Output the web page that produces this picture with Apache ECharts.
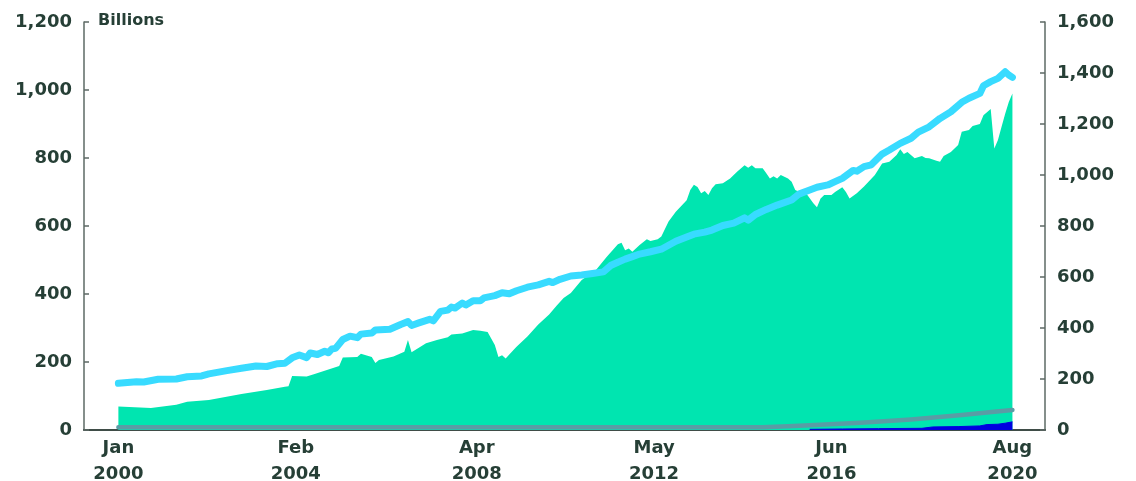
<!DOCTYPE html>
<html>
<head>
<meta charset="utf-8">
<script src="https://cdn.jsdelivr.net/npm/echarts@6/dist/echarts.min.js"></script>
<style>
html,body{margin:0;padding:0;background:#fff;}
#chart{width:1136px;height:481px;}
</style>
</head>
<body>
<div id="chart"></div>
<script>
// x = month index from Jan 2000
const monthNames = ['Jan','Feb','Mar','Apr','May','Jun','Jul','Aug','Sep','Oct','Nov','Dec'];
const startYear = 2000;
const tickMonths = [0, 49, 99, 148, 197, 247];
const leftTicks = [0, 200, 400, 600, 800, 1000, 1200];
const rightTicks = [0, 200, 400, 600, 800, 1000, 1200, 1400, 1600];

// green area (left axis, billions)
const seriesGreen = [
 [0,69],[9,65],[16,74],[19,83],[25,88],[34,106],[41,118],[46,127],[47,129],[48,159],[52,157],[54,164],
 [61,188],[62,213],[66,215],[67,224],[70,215],[71,197],[72,206],[76,216],[79,230],[80,265],[81,229],
 [85,255],[88,265],[91,273],[92,281],[95,284],[98,294],[100,292],[102,288],[104,250],[105,215],[106,220],
 [107,210],[108,222],[110,245],[113,275],[116,310],[119,340],[121,365],[123,388],[125,403],[128,441],
 [132,471],[135,510],[138,546],[139,551],[140,529],[141,534],[142,524],[144,544],[146,561],[147,556],
 [149,561],[150,569],[152,613],[154,642],[157,676],[158,706],[159,721],[160,715],[161,696],[162,703],
 [163,691],[164,711],[165,723],[167,726],[169,740],[171,760],[173,779],[174,771],[175,779],[176,770],
 [178,770],[179,755],[180,740],[181,746],[182,740],[183,750],[185,740],[186,730],[187,706],[188,701],
 [190,696],[192,667],[193,655],[194,681],[195,691],[197,691],[198,700],[200,714],[201,700],[202,681],
 [204,696],[206,716],[209,750],[211,784],[213,789],[215,809],[216,826],[217,812],[218,818],[220,799],
 [222,806],[223,800],[224,799],[226,792],[227,789],[228,806],[230,818],[232,838],[233,877],[235,882],
 [236,894],[238,900],[239,926],[241,944],[242,828],[243,853],[244,892],[245,930],[246,965],[247,990]
];
// light blue line (right axis)
const seriesBlue = [
 [0,183],[5,189],[7,188],[11,199],[16,200],[19,209],[23,212],[25,220],[30,233],[34,242],[38,251],[41,249],
 [44,260],[46,262],[48,283],[50,294],[52,284],[53,302],[55,296],[57,309],[58,303],[59,318],[60,320],
 [62,355],[64,368],[66,362],[67,376],[70,380],[71,392],[75,395],[78,414],[80,425],[81,410],[83,420],
 [86,434],[87,428],[89,465],[91,470],[92,482],[93,478],[95,498],[96,490],[98,507],[100,507],[101,518],
 [104,527],[106,538],[108,534],[110,546],[113,560],[116,569],[119,583],[120,578],[122,591],[125,604],
 [128,608],[131,614],[134,620],[136,645],[138,658],[140,670],[142,680],[144,690],[147,699],[150,709],
 [154,740],[157,757],[159,768],[162,776],[164,784],[167,802],[170,811],[173,832],[174,823],[176,845],
 [179,865],[182,882],[186,902],[188,925],[191,941],[193,952],[196,961],[198,974],[200,987],[203,1018],
 [204,1015],[206,1033],[208,1040],[211,1082],[213,1098],[216,1124],[219,1144],[221,1168],[224,1189],
 [227,1222],[230,1248],[233,1285],[235,1301],[238,1320],[239,1350],[241,1366],[243,1379],[245,1405],
 [246,1392],[247,1383]
];
// gray line (left axis)
const seriesGray = [
 [0,8],[60,8],[120,8],[178,8],[185,11],[191,14],[205,21],[219,31],[233,44],[242,54],[247,59]
];
// dark blue area (left axis)
const seriesNavy = [
 [191,2],[200,3],[210,4],[222,5],[225,9],[232,10],[238,12],[240,16],[243,17],[245,20],[247,24]
];

const textColor = '#263f36';
const fontFam = '"DejaVu Sans", sans-serif';

const chart = echarts.init(document.getElementById('chart'), null, {renderer: 'canvas'});
chart.setOption({
  animation: false,
  backgroundColor: '#ffffff',
  grid: {left: 84, right: 91, top: 22, bottom: 51, containLabel: false, outerBoundsMode: 'none'},
  xAxis: {
    type: 'value',
    min: -9.5,
    max: 256,
    splitLine: {show: false},
    axisLine: {show: true, onZero: false, lineStyle: {color: '#3f4d48', width: 2}},
    axisTick: {show: false},
    axisLabel: {
      customValues: tickMonths,
      margin: 5,
      color: textColor,
      fontFamily: fontFam,
      fontWeight: 'bold',
      fontSize: 18,
      lineHeight: 26,
      formatter: function (v) {
        const i = Math.round(v);
        return monthNames[i % 12] + '\n' + (startYear + Math.floor(i / 12));
      }
    }
  },
  yAxis: [
    {
      type: 'value', min: 0, max: 1200, interval: 200,
      splitLine: {show: false},
      axisLine: {show: true, onZero: false, lineStyle: {color: '#5d6a65', width: 1.5}},
      axisTick: {show: true, inside: true, length: 5, lineStyle: {color: '#5d6a65', width: 1.5}},
      axisLabel: {
        margin: 12, color: textColor, fontFamily: fontFam, fontWeight: 'bold', fontSize: 18,
        formatter: v => leftTicks.includes(v) ? v.toLocaleString('en-US') : ''
      }
    },
    {
      type: 'value', min: 0, max: 1600, interval: 200, position: 'right',
      splitLine: {show: false},
      axisLine: {show: true, onZero: false, lineStyle: {color: '#5d6a65', width: 1.5}},
      axisTick: {show: true, inside: true, length: 5, lineStyle: {color: '#5d6a65', width: 1.5}},
      axisLabel: {
        margin: 12, color: textColor, fontFamily: fontFam, fontWeight: 'bold', fontSize: 18,
        formatter: v => rightTicks.includes(v) ? v.toLocaleString('en-US') : ''
      }
    }
  ],
  graphic: [{
    type: 'text', left: 98, top: 13,
    style: {text: 'Billions', fill: textColor, font: 'bold 16px "DejaVu Sans", sans-serif'}
  }],
  series: [
    {
      name: 'Green', type: 'line', yAxisIndex: 0, data: seriesGreen, symbol: 'none',
      lineStyle: {width: 0}, areaStyle: {color: '#00e5b0', opacity: 1}, z: 1
    },
    {
      name: 'Blue', type: 'line', yAxisIndex: 1, data: seriesBlue, symbol: 'none',
      lineStyle: {width: 7, color: '#38dbff', cap: 'round', join: 'round'}, z: 3
    },
    {
      name: 'Gray', type: 'line', yAxisIndex: 0, data: seriesGray, symbol: 'none',
      lineStyle: {width: 4.5, color: '#5a9ca5', cap: 'round', join: 'round'}, z: 4
    },
    {
      name: 'Navy', type: 'line', yAxisIndex: 0, data: seriesNavy, symbol: 'none',
      lineStyle: {width: 1, color: '#0000e0'}, areaStyle: {color: '#0000e0', opacity: 1}, z: 2
    }
  ]
});
</script>
</body>
</html>
